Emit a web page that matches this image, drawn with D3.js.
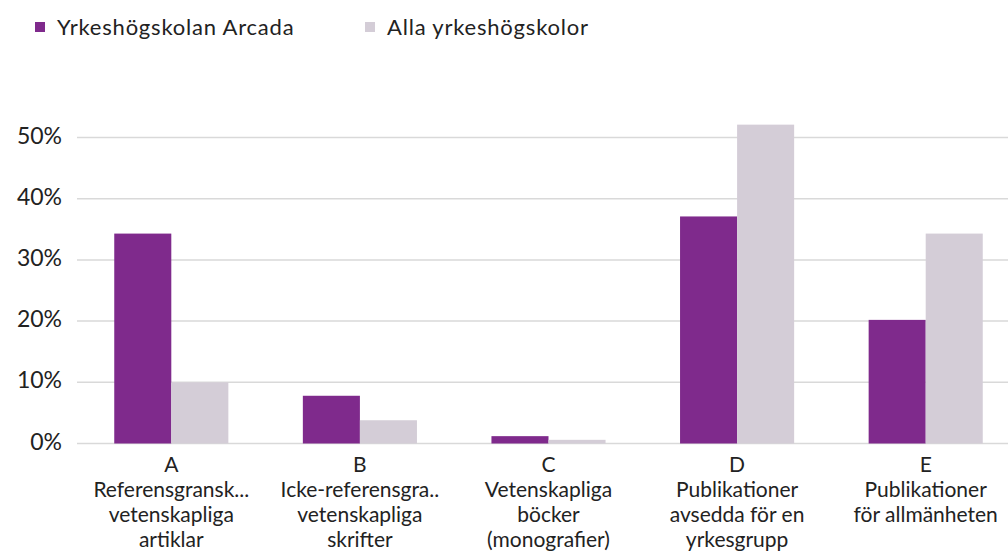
<!DOCTYPE html>
<html>
<head>
<meta charset="utf-8">
<script src="https://cdn.jsdelivr.net/npm/d3@7"></script>
<style>
  body { margin: 0; background: #fff; }
  text { font-family: Lato, "Open Sans", sans-serif; fill: #222; }
</style>
</head>
<body>
<div id="chart"></div>
<script>
var categories = ["A", "B", "C", "D", "E"];
var catLabels = [
    ["Referensgransk...", "vetenskapliga", "artiklar"],
    ["Icke-referensgra..", "vetenskapliga", "skrifter"],
    ["Vetenskapliga", "böcker", "(monografier)"],
    ["Publikationer", "avsedda för en", "yrkesgrupp"],
    ["Publikationer", "för allmänheten"]
];
var seriesNames = ["Yrkeshögskolan Arcada", "Alla yrkeshögskolor"];
var arcada = [34.3, 7.8, 1.2, 37.1, 20.2];
var alla = [10.0, 3.8, 0.6, 52.1, 34.3];
var yTicks = [0, 10, 20, 30, 40, 50];
var colors = ["#7f2a8c", "#d4cdd7"];

var w = 1008, h = 554;

var svg = d3.select("#chart").append("svg")
    .attr("width", w)
    .attr("height", h);

var x = d3.scaleBand()
    .domain(categories)
    .range([77, 1020])
    .paddingInner(0.395)
    .paddingOuter(0.1975);

var x1 = d3.scaleBand()
    .domain([0, 1])
    .range([0, x.bandwidth()]);

var y = d3.scaleLinear()
    .domain([0, 50])
    .range([443.5, 137.5]);

// gridlines
svg.append("g").selectAll("line")
    .data(yTicks)
    .enter().append("line")
        .attr("x1", 77)
        .attr("x2", w)
        .attr("y1", function(d) { return y(d); })
        .attr("y2", function(d) { return y(d); })
        .attr("stroke", "#d9d9d9")
        .attr("stroke-width", 1.5);

// y labels
svg.append("g").selectAll("text")
    .data(yTicks)
    .enter().append("text")
        .attr("x", 62)
        .attr("y", function(d) { return y(d) - 2; })
        .attr("dy", "0.35em")
        .attr("text-anchor", "end")
        .style("font-size", "23px")
        .text(function(d) { return d + "%"; });

// bars
var series = [arcada, alla];
series.forEach(function(vals, s) {
    svg.append("g").selectAll("rect")
        .data(vals)
        .enter().append("rect")
            .attr("x", function(d, i) { return x(categories[i]) + x1(s); })
            .attr("width", x1.bandwidth())
            .attr("y", function(d) { return y(d); })
            .attr("height", function(d) { return y(0) - y(d); })
            .attr("fill", colors[s]);
});

// x labels
var xl = svg.append("g").selectAll("text")
    .data(categories)
    .enter().append("text")
        .attr("text-anchor", "middle")
        .style("font-size", "21px");

xl.each(function(d, i) {
    var t = d3.select(this);
    var lines = [d].concat(catLabels[i]);
    lines.forEach(function(l, j) {
        t.append("tspan")
            .attr("x", x(d) + x.bandwidth() / 2)
            .attr("y", 472 + j * 25)
            .text(l);
    });
});

// legend
var legend = svg.append("g");
var legX = [35, 365];
seriesNames.forEach(function(name, i) {
    legend.append("rect")
        .attr("x", legX[i])
        .attr("y", 22)
        .attr("width", 10)
        .attr("height", 10)
        .attr("fill", colors[i]);
    legend.append("text")
        .attr("x", legX[i] + 22)
        .attr("y", 35)
        .style("font-size", "22px")
        .style("letter-spacing", "0.8px")
        .text(name);
});
</script>
</body>
</html>
